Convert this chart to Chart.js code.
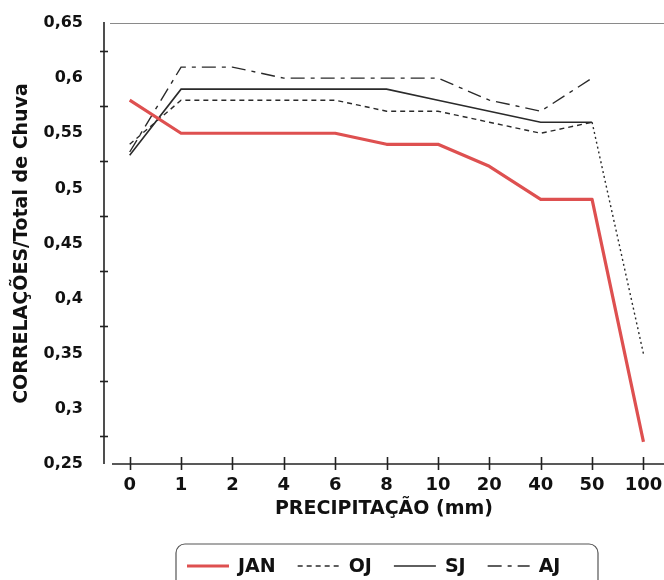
<!DOCTYPE html>
<html><head><meta charset="utf-8">
<script src="https://cdn.jsdelivr.net/npm/chart.js@4.4.1/dist/chart.umd.min.js"></script>
<style>html,body{margin:0;padding:0;background:#fff}#wrap{width:664px;height:580px}</style>
</head><body><div id="wrap"><canvas id="c" width="664" height="580"></canvas></div>
<script>
const categories = ['0','1','2','4','6','8','10','20','40','50','100'];
const jan = [0.58,0.55,0.55,0.55,0.55,0.54,0.54,0.52,0.49,0.49,0.27];
const oj  = [0.54,0.58,0.58,0.58,0.58,0.57,0.57,0.56,0.55,0.56,0.35];
const sj  = [0.53,0.59,0.59,0.59,0.59,0.59,0.58,0.57,0.56,0.56];
const aj  = [0.533,0.61,0.61,0.60,0.60,0.60,0.60,0.58,0.57,0.60];
const yTickValues = [0.25,0.3,0.35,0.4,0.45,0.5,0.55,0.6,0.65];
const yTickLabels = ['0,25','0,3','0,35','0,4','0,45','0,5','0,55','0,6','0,65'];
const seriesNames = ['JAN','OJ','SJ','AJ'];

const FAM = "'DejaVu Sans', sans-serif";
Chart.defaults.font.family = FAM;
Chart.defaults.font.weight = 'bold';
const toPts = arr => arr.map((v,i)=>({x:i,y:v}));

const deco = {id:'deco',
  beforeDatasetsDraw(chart){
    const {ctx, chartArea:a, scales:{x,y}} = chart;
    ctx.save();
    ctx.strokeStyle = '#8a8a8a'; ctx.lineWidth = 1;
    ctx.beginPath(); ctx.moveTo(a.left+6, a.top+0.5); ctx.lineTo(a.right, a.top+0.5); ctx.stroke();
    ctx.strokeStyle = '#222'; ctx.lineWidth = 1.6;
    ctx.beginPath(); ctx.moveTo(a.left, a.top-1); ctx.lineTo(a.left, a.bottom); ctx.stroke();
    for (let i=0;i<yTickValues.length-1;i++){
      const py = Math.round(y.getPixelForValue((yTickValues[i]+yTickValues[i+1])/2))+0.5;
      ctx.beginPath(); ctx.moveTo(a.left-4, py); ctx.lineTo(a.left+4, py); ctx.stroke();
    }
    ctx.beginPath(); ctx.moveTo(a.left+8, a.bottom); ctx.lineTo(a.right, a.bottom); ctx.stroke();
    x.ticks.forEach(t=>{
      const px = Math.round(x.getPixelForValue(t.value))+0.5;
      ctx.beginPath(); ctx.moveTo(px, a.bottom-7); ctx.lineTo(px, a.bottom+6); ctx.stroke();
    });
    ctx.restore();
  },
  afterDraw(chart){
    const ctx = chart.ctx;
    ctx.save();
    const bx=176, by=544, bw=422, bh=50, r=9;
    ctx.strokeStyle='#555'; ctx.lineWidth=1.2;
    ctx.beginPath();
    ctx.moveTo(bx+r,by); ctx.lineTo(bx+bw-r,by); ctx.arcTo(bx+bw,by,bx+bw,by+r,r);
    ctx.lineTo(bx+bw,by+bh-r); ctx.arcTo(bx+bw,by+bh,bx+bw-r,by+bh,r);
    ctx.lineTo(bx+r,by+bh); ctx.arcTo(bx,by+bh,bx,by+bh-r,r);
    ctx.lineTo(bx,by+r); ctx.arcTo(bx,by,bx+r,by,r); ctx.closePath(); ctx.stroke();
    ctx.font = "bold 19px " + FAM;
    ctx.textBaseline='middle'; ctx.textAlign='left'; ctx.fillStyle='#111';
    let cx = 187; const cy = 566;
    chart.data.datasets.forEach(ds=>{
      ctx.save();
      ctx.strokeStyle = ds.borderColor; ctx.lineWidth = ds.borderWidth;
      ctx.setLineDash(ds.borderDash || []);
      ctx.beginPath(); ctx.moveTo(cx, cy); ctx.lineTo(cx+42, cy); ctx.stroke();
      ctx.restore();
      cx += 51;
      ctx.fillText(ds.label, cx, cy+1);
      cx += ctx.measureText(ds.label).width + 22;
    });
    ctx.restore();
  }
};

new Chart(document.getElementById('c'), {
  type:'line',
  data:{datasets:[
    {label:seriesNames[0], data:toPts(jan), borderColor:'rgb(222,80,80)', borderWidth:3.2, pointRadius:0, tension:0, borderJoinStyle:'round'},
    {label:seriesNames[1], data:toPts(oj), borderColor:'#2a2a2a', borderWidth:1.4, borderDash:[5,4], pointRadius:0, tension:0,
      segment:{borderDash: c => c.p0DataIndex===9 ? [2,3] : undefined}},
    {label:seriesNames[2], data:toPts(sj), borderColor:'#2a2a2a', borderWidth:1.6, pointRadius:0, tension:0},
    {label:seriesNames[3], data:toPts(aj), borderColor:'#2a2a2a', borderWidth:1.4, borderDash:[14,6,4,6], pointRadius:0, tension:0}
  ]},
  options:{
    responsive:false, animation:false, devicePixelRatio:1,
    layout:{padding:{top:23,left:0,right:0,bottom:0}},
    plugins:{legend:{display:false}, tooltip:{enabled:false}},
    scales:{
      x:{type:'linear', min:-0.5, max:10.4,
        afterBuildTicks(s){ s.ticks = categories.map((c,i)=>({value:i})); },
        afterFit(s){ s.height = 116; s.paddingLeft = 0; s.paddingRight = 0; },
        grid:{display:false, drawTicks:false}, border:{display:false},
        ticks:{padding:11, autoSkip:false, maxRotation:0, color:'#111', font:{size:18, weight:'bold'},
          callback:v=>categories[v]},
        title:{display:true, text:'PRECIPITAÇÃO (mm)', color:'#111', font:{size:19, weight:'bold'}, padding:{top:0,bottom:60}}
      },
      y:{min:0.25, max:0.65,
        afterBuildTicks(s){ s.ticks = yTickValues.map(v=>({value:v})); },
        afterFit(s){ s.width = 104; s.paddingTop = 0; s.paddingBottom = 0; },
        grid:{display:false, drawTicks:false}, border:{display:false},
        ticks:{padding:21, autoSkip:false, color:'#111', font:{size:16, weight:'bold'},
          callback:v=>{ const i = yTickValues.findIndex(t=>Math.abs(t-v)<1e-9); return i>=0 ? yTickLabels[i] : ''; }},
        title:{display:true, text:'CORRELAÇÕES/Total de Chuva', color:'#111', font:{size:19, weight:'bold'}, padding:{top:11,bottom:0}}
      }
    }
  },
  plugins:[deco]
});
</script></body></html>
